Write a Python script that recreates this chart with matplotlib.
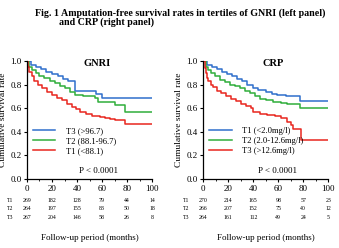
import numpy as np
import matplotlib.pyplot as plt

plt.rcParams["font.family"] = ["Liberation Serif", "DejaVu Serif"]

blue, green, red = "#2f6fcc", "#2fae3a", "#e8261e"

# GNRI curves (months, survival)
gnri_t3_t = [0, 3, 7, 11, 15, 20, 25, 29, 33, 38, 55, 60, 100]
gnri_t3_s = [1.0, 0.97, 0.95, 0.93, 0.91, 0.89, 0.87, 0.85, 0.83, 0.745, 0.72, 0.69, 0.69]
gnri_t2_t = [0, 2, 4, 7, 10, 14, 18, 22, 26, 30, 34, 38, 45, 54, 57, 70, 78, 100]
gnri_t2_s = [1.0, 0.95, 0.92, 0.895, 0.87, 0.855, 0.83, 0.81, 0.79, 0.77, 0.74, 0.71, 0.70, 0.69, 0.655, 0.63, 0.57, 0.57]
gnri_t1_t = [0, 1, 2, 4, 6, 9, 12, 16, 20, 24, 28, 32, 36, 39, 42, 47, 52, 58, 62, 66, 70, 78, 100]
gnri_t1_s = [1.0, 0.95, 0.91, 0.87, 0.83, 0.80, 0.77, 0.74, 0.71, 0.69, 0.67, 0.64, 0.61, 0.59, 0.57, 0.55, 0.535, 0.525, 0.515, 0.505, 0.50, 0.47, 0.47]

# CRP curves
crp_t1_t = [0, 3, 7, 11, 15, 19, 23, 27, 31, 35, 40, 44, 50, 55, 59, 66, 77, 100]
crp_t1_s = [1.0, 0.97, 0.95, 0.93, 0.91, 0.89, 0.87, 0.85, 0.83, 0.80, 0.77, 0.755, 0.74, 0.72, 0.71, 0.70, 0.66, 0.66]
crp_t2_t = [0, 2, 4, 6, 9, 13, 17, 21, 25, 29, 33, 37, 41, 45, 50, 56, 62, 67, 77, 100]
crp_t2_s = [1.0, 0.95, 0.92, 0.90, 0.87, 0.84, 0.82, 0.80, 0.785, 0.77, 0.75, 0.73, 0.70, 0.68, 0.67, 0.655, 0.645, 0.64, 0.60, 0.60]
crp_t3_t = [0, 1, 2, 3, 4, 6, 8, 11, 14, 18, 22, 26, 30, 34, 38, 40, 45, 51, 57, 62, 67, 70, 72, 78, 100]
crp_t3_s = [1.0, 0.94, 0.90, 0.86, 0.83, 0.80, 0.78, 0.75, 0.73, 0.70, 0.68, 0.66, 0.64, 0.62, 0.60, 0.57, 0.555, 0.54, 0.53, 0.515, 0.485, 0.46, 0.42, 0.33, 0.33]

risk_times = [0, 20, 40, 60, 80, 100]
gnri_risk = {"T1": [269, 182, 128, 79, 44, 14],
             "T2": [264, 197, 155, 83, 50, 18],
             "T3": [267, 204, 146, 58, 26, 8]}
crp_risk = {"T1": [270, 214, 165, 98, 57, 23],
            "T2": [266, 207, 152, 75, 40, 12],
            "T3": [264, 161, 112, 49, 24, 5]}

fig = plt.figure(figsize=(3.39, 2.48), dpi=100)
fig.text(0.103, 0.945, "Fig. 1 Amputation-free survival rates in tertiles of GNRI (left panel)",
         fontsize=7.2, fontweight="bold", va="center")
fig.text(0.174, 0.91, "and CRP (right panel)", fontsize=7.2, fontweight="bold", va="center")

ax1 = fig.add_axes([0.0796, 0.278, 0.369, 0.476])
ax2 = fig.add_axes([0.5997, 0.278, 0.369, 0.476])


def km_panel(ax, name, curves, risk, px):
    for t, s, c, lab in curves:
        ax.step(t, s, where="post", color=c, lw=1.1, label=lab)
    ax.set_xlim(0, 100)
    ax.set_ylim(0, 1.0)
    ax.set_xticks(risk_times)
    ax.set_xticks(np.arange(0, 101, 10), minor=True)
    ax.set_yticks(np.arange(0, 1.01, 0.2))
    ax.set_yticklabels(["0.0", "0.2", "0.4", "0.6", "0.8", "1.0"])
    ax.tick_params(labelsize=6.5, length=2.5, width=0.8, pad=1.5)
    ax.tick_params(which="minor", length=1.5, width=0.6)
    for sp in ["top", "right"]:
        ax.spines[sp].set_visible(False)
    ax.spines["left"].set_linewidth(0.9)
    ax.spines["bottom"].set_linewidth(0.9)
    ax.text(56, 0.98, name, fontsize=7.5, fontweight="bold", ha="center", va="center")
    ax.text(px, 0.068, "P < 0.0001", fontsize=6.5, ha="center", va="center")
    ax.legend(loc="upper left", bbox_to_anchor=(0.02, 0.47), frameon=False, fontsize=6.2,
              handlelength=2.6, handletextpad=1.2, labelspacing=0.25, borderaxespad=0)
    ax.set_ylabel("Cumulative survival rate", fontsize=6.8)
    ax.yaxis.set_label_coords(-0.16, 0.5)
    tr = ax.get_xaxis_transform()
    for i, (row, vals) in enumerate(risk.items()):
        yy = -0.178 - 0.072 * i
        ax.text(-13.6, yy, row, fontsize=4.2, ha="center", va="center", transform=tr, clip_on=False)
        for t, v in zip(risk_times, vals):
            ax.text(t, yy, str(v), fontsize=4.2, ha="center", va="center", transform=tr, clip_on=False)
    ax.text(50, -0.5, "Follow-up period (months)", fontsize=6.5, ha="center", va="center",
            transform=tr)


km_panel(ax1, "GNRI",
         [(gnri_t3_t, gnri_t3_s, blue, "T3 (>96.7)"),
          (gnri_t2_t, gnri_t2_s, green, "T2 (88.1-96.7)"),
          (gnri_t1_t, gnri_t1_s, red, "T1 (<88.1)")],
         gnri_risk, 57)
km_panel(ax2, "CRP",
         [(crp_t1_t, crp_t1_s, blue, "T1 (<2.0mg/l)"),
          (crp_t2_t, crp_t2_s, green, "T2 (2.0-12.6mg/l)"),
          (crp_t3_t, crp_t3_s, red, "T3 (>12.6mg/l)")],
         crp_risk, 59)

fig.savefig("out.png", dpi=100)
